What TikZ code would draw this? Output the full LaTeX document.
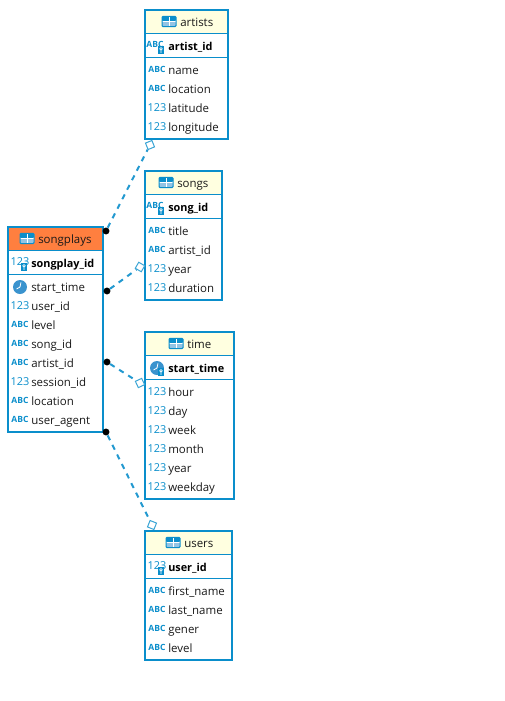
\documentclass[tikz,border=0pt]{standalone}
\usepackage{fontspec}
\setmainfont{Open Sans}
\usepackage{xcolor}
\usetikzlibrary{fit}
\definecolor{tabblue}{HTML}{0A8ECB}
\definecolor{iconblue}{HTML}{3A93CE}
\definecolor{headyellow}{HTML}{FFFFE0}
\definecolor{headorange}{HTML}{FF7F3F}
\tikzset{
    tablebox/.style={draw=tabblue,line width=1.5pt,inner sep=0pt},
    yellowhead/.style={fill=headyellow,inner sep=0pt},
    orangehead/.style={fill=headorange,inner sep=0pt},
    rowline/.style={draw=tabblue,line width=0.75pt},
    rowtext/.style={anchor=west,inner sep=0pt,text height=7.6pt,text depth=1.5pt,font=\fontsize{8.6}{10}\selectfont,text=black!90},
    keytext/.style={rowtext,font=\fontsize{8.15}{10}\selectfont\bfseries,text=black},
    abcicon/.style={inner sep=0pt,text height=4.2pt,text depth=0pt,font=\fontsize{6.4}{7}\selectfont\bfseries,text=tabblue},
    numicon/.style={inner sep=0pt,text height=5.5pt,text depth=0pt,font=\fontsize{8.2}{10}\selectfont,text=tabblue},
    keybadge/.style={fill=tabblue,inner sep=0pt,minimum width=5.2pt,minimum height=6.5pt,
        path picture={\draw[white,line width=0.5pt] (path picture bounding box.center) ++(0,0.9pt) circle (1pt) ++(0,-1pt) -- ++(0,-2pt);}},
    clockicon/.style={circle,fill=iconblue,inner sep=0pt,minimum size=10.5pt,
        path picture={\draw[white,line width=0.6pt] ([shift={(0.7pt,3.4pt)}]path picture bounding box.center) -- (path picture bounding box.center) -- ++(-2.6pt,-1.5pt);}},
    tabicon/.style={draw=tabblue,fill=white,rounded corners=0.8pt,line width=0.75pt,inner sep=0pt,minimum width=10.5pt,minimum height=7.8pt,
        path picture={
            \fill[tabblue] (path picture bounding box.north west) rectangle ([yshift=0.3pt]path picture bounding box.east);
            \fill[iconblue!55] (path picture bounding box.south west) rectangle (path picture bounding box.east);
            \draw[white,line width=0.5pt] (path picture bounding box.west) -- (path picture bounding box.east)
                (path picture bounding box.north) -- (path picture bounding box.south);}},
    fkline/.style={draw=tabblue!90,line width=1.5pt,dash pattern=on 4pt off 4pt},
    blackdot/.style={circle,fill=black,inner sep=0pt,minimum size=5.2pt},
    whitediamond/.style={draw=tabblue!80,fill=white,line width=0.75pt,inner sep=0pt,minimum size=5.2pt}
}
\begin{document}
\begin{tikzpicture}[x=0.75pt,y=-0.75pt]
	\useasboundingbox (0,0) rectangle (505,701);

	% artists
	\node[yellowhead,fit={(145,10) (228,33)}] (artistshead) {};
	\node[tablebox,fit={(145,10) (228,139)}] (artists) {};
	\node[tabicon] (artistsicon) at (169,21.5) {};
	\node[rowtext] (artiststitle) at (180,22) {artists};
	\node[abcicon] (artistskeyicon) at (155,45) {ABC};
	\node[keybadge] (artistskeybadge) at (161,50) {};
	\node[keytext] (artistskey) at (168,46) {artist\_id};
	\node[abcicon] (artistsi1) at (157,70) {ABC};
	\node[rowtext] (artistst1) at (168,70) {name};
	\node[abcicon] (artistsi2) at (157,89) {ABC};
	\node[rowtext] (artistst2) at (168,89) {location};
	\node[numicon] (artistsi3) at (157,108) {123};
	\node[rowtext] (artistst3) at (168,108) {latitude};
	\node[numicon] (artistsi4) at (157,127) {123};
	\node[rowtext] (artistst4) at (168,127) {longitude};
	\draw[rowline] (artists.west |- artistshead.south) -- (artists.east |- artistshead.south);
	\coordinate (artistssep) at (145,57);
	\draw[rowline] (artistssep) -- (artistssep -| artists.east);

	% songs
	\node[yellowhead,fit={(145,171) (222,194)}] (songshead) {};
	\node[tablebox,fit={(145,171) (222,300)}] (songs) {};
	\node[tabicon] (songsicon) at (166,182.5) {};
	\node[rowtext] (songstitle) at (177,183) {songs};
	\node[abcicon] (songskeyicon) at (155,206) {ABC};
	\node[keybadge] (songskeybadge) at (161,211) {};
	\node[keytext] (songskey) at (168,207) {song\_id};
	\node[abcicon] (songsi1) at (157,231) {ABC};
	\node[rowtext] (songst1) at (168,231) {title};
	\node[abcicon] (songsi2) at (157,250) {ABC};
	\node[rowtext] (songst2) at (168,250) {artist\_id};
	\node[numicon] (songsi3) at (157,269) {123};
	\node[rowtext] (songst3) at (168,269) {year};
	\node[numicon] (songsi4) at (157,288) {123};
	\node[rowtext] (songst4) at (168,288) {duration};
	\draw[rowline] (songs.west |- songshead.south) -- (songs.east |- songshead.south);
	\coordinate (songssep) at (145,218);
	\draw[rowline] (songssep) -- (songssep -| songs.east);

	% songplays
	\node[orangehead,fit={(8,227) (103,250)}] (playshead) {};
	\node[tablebox,fit={(8,227) (103,432)}] (plays) {};
	\node[tabicon] (playsicon) at (27,238.5) {};
	\node[rowtext] (playstitle) at (38,239) {songplays};
	\node[numicon] (playskeyicon) at (20,262) {123};
	\node[keybadge] (playskeybadge) at (24,267) {};
	\node[keytext] (playskey) at (31,263) {songplay\_id};
	\node[clockicon] (playsi1) at (20,287) {};
	\node[rowtext] (playst1) at (31,287) {start\_time};
	\node[numicon] (playsi2) at (20,306) {123};
	\node[rowtext] (playst2) at (31,306) {user\_id};
	\node[abcicon] (playsi3) at (20,325) {ABC};
	\node[rowtext] (playst3) at (31,325) {level};
	\node[abcicon] (playsi4) at (20,344) {ABC};
	\node[rowtext] (playst4) at (31,344) {song\_id};
	\node[abcicon] (playsi5) at (20,363) {ABC};
	\node[rowtext] (playst5) at (31,363) {artist\_id};
	\node[numicon] (playsi6) at (20,382) {123};
	\node[rowtext] (playst6) at (31,382) {session\_id};
	\node[abcicon] (playsi7) at (20,401) {ABC};
	\node[rowtext] (playst7) at (31,401) {location};
	\node[abcicon] (playsi8) at (20,420) {ABC};
	\node[rowtext] (playst8) at (31,420) {user\_agent};
	\draw[rowline] (plays.west |- playshead.south) -- (plays.east |- playshead.south);
	\coordinate (playssep) at (8,274);
	\draw[rowline] (playssep) -- (playssep -| plays.east);

	% time
	\node[yellowhead,fit={(145,332) (234,355)}] (timehead) {};
	\node[tablebox,fit={(145,332) (234,499)}] (time) {};
	\node[tabicon] (timeicon) at (176,343.5) {};
	\node[rowtext] (timetitle) at (187,344) {time};
	\node[clockicon] (timekeyicon) at (157,368) {};
	\node[keybadge] (timekeybadge) at (161,372) {};
	\node[keytext] (timekey) at (168,368) {start\_time};
	\node[numicon] (timei1) at (157,392) {123};
	\node[rowtext] (timet1) at (168,392) {hour};
	\node[numicon] (timei2) at (157,411) {123};
	\node[rowtext] (timet2) at (168,411) {day};
	\node[numicon] (timei3) at (157,430) {123};
	\node[rowtext] (timet3) at (168,430) {week};
	\node[numicon] (timei4) at (157,449) {123};
	\node[rowtext] (timet4) at (168,449) {month};
	\node[numicon] (timei5) at (157,468) {123};
	\node[rowtext] (timet5) at (168,468) {year};
	\node[numicon] (timei6) at (157,487) {123};
	\node[rowtext] (timet6) at (168,487) {weekday};
	\draw[rowline] (time.west |- timehead.south) -- (time.east |- timehead.south);
	\coordinate (timesep) at (145,379);
	\draw[rowline] (timesep) -- (timesep -| time.east);

	% users
	\node[yellowhead,fit={(145,531) (232,554)}] (usershead) {};
	\node[tablebox,fit={(145,531) (232,660)}] (users) {};
	\node[tabicon] (usersicon) at (173,542.5) {};
	\node[rowtext] (userstitle) at (184,543) {users};
	\node[numicon] (userskeyicon) at (157,566) {123};
	\node[keybadge] (userskeybadge) at (161,571) {};
	\node[keytext] (userskey) at (168,567) {user\_id};
	\node[abcicon] (usersi1) at (157,591) {ABC};
	\node[rowtext] (userst1) at (168,591) {first\_name};
	\node[abcicon] (usersi2) at (157,610) {ABC};
	\node[rowtext] (userst2) at (168,610) {last\_name};
	\node[abcicon] (usersi3) at (157,629) {ABC};
	\node[rowtext] (userst3) at (168,629) {gener};
	\node[abcicon] (usersi4) at (157,648) {ABC};
	\node[rowtext] (userst4) at (168,648) {level};
	\draw[rowline] (users.west |- usershead.south) -- (users.east |- usershead.south);
	\coordinate (userssep) at (145,578);
	\draw[rowline] (userssep) -- (userssep -| users.east);

	% foreign keys
	\node[blackdot] (fkartists) at (106,231) {};
	\node[whitediamond,rotate=22] (pkartists) at (150,145) {};
	\node[blackdot] (fksongs) at (107,291) {};
	\node[whitediamond,rotate=-30] (pksongs) at (140,267) {};
	\node[blackdot] (fktime) at (107,362) {};
	\node[whitediamond,rotate=25] (pktime) at (140,383) {};
	\node[blackdot] (fkusers) at (106,432) {};
	\node[whitediamond,rotate=-22] (pkusers) at (152,525) {};
	\draw[fkline] (fkartists) -- (pkartists);
	\draw[fkline] (fksongs) -- (pksongs);
	\draw[fkline] (fktime) -- (pktime);
	\draw[fkline] (fkusers) -- (pkusers);
\end{tikzpicture}
\end{document}
